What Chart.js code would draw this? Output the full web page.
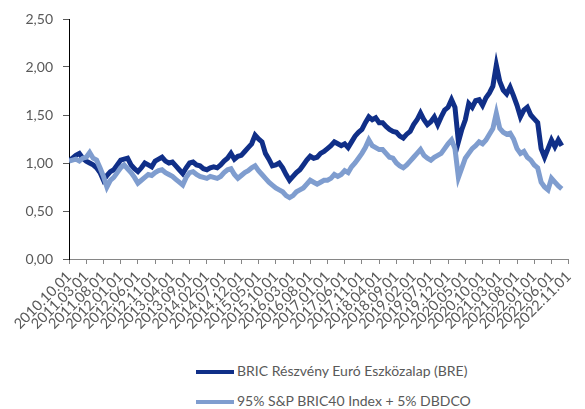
<!DOCTYPE html>
<html>
<head>
<meta charset="utf-8">
<script src="https://cdn.jsdelivr.net/npm/chart.js@4.4.0/dist/chart.umd.min.js"></script>
<style>
  body { margin: 0; background: #fff; font-family: Lato, sans-serif; }
  #wrap { position: relative; width: 585px; height: 409px; }
  #box { position: absolute; left: 0; top: 0; width: 585px; height: 360px; }
  .leg { position: absolute; font-size: 14px; color: #595959; white-space: nowrap; }
  .leg span { display: inline-block; width: 38px; height: 4px; vertical-align: middle; margin-right: 3px; }
</style>
</head>
<body>
<div id="wrap">
  <div id="box"><canvas id="c"></canvas></div>
  <div class="leg" id="leg1" style="left:196px; top:362px;"></div>
  <div class="leg" id="leg2" style="left:196px; top:392px;"></div>
</div>
<script>
// monthly values, first point = 2010.10
const seriesNames = ['BRIC Részvény Euró Eszközalap (BRE)', '95% S&P BRIC40 Index + 5% DBDCO'];

const bre = [
  1.02, 1.05, 1.08, 1.10, 1.05, 1.02, 1.00, 0.98, 0.95, 0.90, 0.82, 0.87,
  0.91, 0.93, 0.98, 1.03, 1.04, 1.05, 0.98, 0.94, 0.91, 0.95, 1.00, 0.98,
  0.96, 1.02, 1.04, 1.06, 1.02, 1.00, 1.01, 0.97, 0.93, 0.89, 0.95, 1.00,
  1.01, 0.98, 0.97, 0.94, 0.93, 0.95, 0.96, 0.95, 0.98, 1.02, 1.05, 1.10,
  1.04, 1.07, 1.08, 1.12, 1.16, 1.20, 1.29, 1.25, 1.22, 1.10, 1.04, 0.97,
  0.98, 1.00, 0.95, 0.88, 0.82, 0.86, 0.90, 0.93, 0.98, 1.03, 1.07, 1.05,
  1.06, 1.10, 1.12, 1.15, 1.18, 1.22, 1.20, 1.18, 1.20, 1.16, 1.22, 1.28,
  1.32, 1.35, 1.42, 1.48, 1.45, 1.47, 1.42, 1.42, 1.38, 1.35, 1.33, 1.32,
  1.28, 1.26, 1.30, 1.33, 1.40, 1.45, 1.52, 1.45, 1.40, 1.43, 1.48, 1.40,
  1.48, 1.55, 1.58, 1.66, 1.58, 1.22, 1.35, 1.45, 1.62, 1.58, 1.65, 1.66,
  1.60, 1.68, 1.73, 1.80, 2.02, 1.85, 1.76, 1.72, 1.79, 1.70, 1.60, 1.48,
  1.55, 1.58, 1.50, 1.46, 1.42, 1.15, 1.06, 1.15, 1.24, 1.17, 1.24, 1.18
];

const index = [
  1.02, 1.03, 1.04, 1.02, 1.05, 1.06, 1.11, 1.05, 1.03, 0.95, 0.86, 0.75,
  0.82, 0.85, 0.90, 0.95, 0.98, 0.94, 0.90, 0.85, 0.79, 0.82, 0.85, 0.88,
  0.87, 0.90, 0.92, 0.93, 0.90, 0.88, 0.86, 0.83, 0.80, 0.77, 0.85, 0.90,
  0.91, 0.88, 0.86, 0.85, 0.84, 0.86, 0.85, 0.84, 0.86, 0.90, 0.93, 0.94,
  0.88, 0.84, 0.87, 0.90, 0.92, 0.95, 0.97, 0.92, 0.88, 0.84, 0.80, 0.77,
  0.74, 0.72, 0.70, 0.66, 0.64, 0.66, 0.70, 0.72, 0.74, 0.78, 0.82, 0.80,
  0.78, 0.80, 0.82, 0.82, 0.84, 0.88, 0.86, 0.88, 0.92, 0.90, 0.96, 1.00,
  1.05, 1.10, 1.16, 1.24, 1.18, 1.16, 1.14, 1.14, 1.10, 1.06, 1.05, 1.00,
  0.97, 0.95, 0.98, 1.02, 1.06, 1.10, 1.14, 1.08, 1.05, 1.03, 1.06, 1.08,
  1.10, 1.15, 1.20, 1.24, 1.15, 0.85, 0.95, 1.05, 1.10, 1.15, 1.18, 1.22,
  1.20, 1.24, 1.30, 1.36, 1.52, 1.36, 1.32, 1.30, 1.31, 1.25, 1.15, 1.10,
  1.12, 1.06, 1.03, 0.98, 0.95, 0.80, 0.75, 0.72, 0.84, 0.80, 0.76, 0.73
];

const xLabels = [
  '2010.10.01', '2011.03.01', '2011.08.01', '2012.01.01', '2012.06.01', '2012.11.01',
  '2013.04.01', '2013.09.01', '2014.02.01', '2014.07.01', '2014.12.01', '2015.05.01',
  '2015.10.01', '2016.03.01', '2016.08.01', '2017.01.01', '2017.06.01', '2017.11.01',
  '2018.04.01', '2018.09.01', '2019.02.01', '2019.07.01', '2019.12.01', '2020.05.01',
  '2020.10.01', '2021.03.01', '2021.08.01', '2022.01.01', '2022.06.01', '2022.11.01'
];
const yLabels = ['0,00', '0,50', '1,00', '1,50', '2,00', '2,50'];

const colors = ['#102f88', '#7f9dcf'];

function toPoints(arr) {
  return arr.map((v, i) => ({ x: i, y: v }));
}

document.getElementById('leg1').innerHTML = '<span style="background:' + colors[0] + '"></span>' + seriesNames[0];
document.getElementById('leg2').innerHTML = '<span style="background:' + colors[1] + '"></span>' + seriesNames[1];

new Chart(document.getElementById('c'), {
  type: 'line',
  data: {
    datasets: [
      { label: seriesNames[0], data: toPoints(bre), borderColor: colors[0], borderWidth: 5, pointRadius: 0, order: 1 },
      { label: seriesNames[1], data: toPoints(index), borderColor: colors[1], borderWidth: 5, pointRadius: 0, order: 0 }
    ]
  },
  options: {
    responsive: true,
    maintainAspectRatio: false,
    animation: false,
    layout: { padding: { top: 19, right: 3, left: 0, bottom: 0 } },
    plugins: { legend: { display: false }, tooltip: { enabled: false } },
    scales: {
      x: {
        type: 'linear',
        min: 0,
        max: 145,
        afterFit: s => { s.height = 101; },
        grid: { drawOnChartArea: false, tickLength: 5, color: '#868686' },
        border: { color: '#868686' },
        ticks: {
          stepSize: 5,
          autoSkip: false,
          minRotation: 45,
          maxRotation: 45,
          padding: 4,
          color: '#595959',
          font: { family: 'Lato', size: 14.5 },
          callback: v => xLabels[v / 5]
        }
      },
      y: {
        min: 0,
        max: 2.5,
        afterFit: s => { s.width = 69; },
        grid: { drawOnChartArea: false, tickLength: 6, color: '#595959' },
        border: { color: '#000' },
        ticks: {
          stepSize: 0.5,
          padding: 10,
          color: '#595959',
          font: { family: 'Lato', size: 14 },
          callback: (v) => yLabels[Math.round(v / 0.5)]
        }
      }
    }
  }
});
</script>
</body>
</html>
